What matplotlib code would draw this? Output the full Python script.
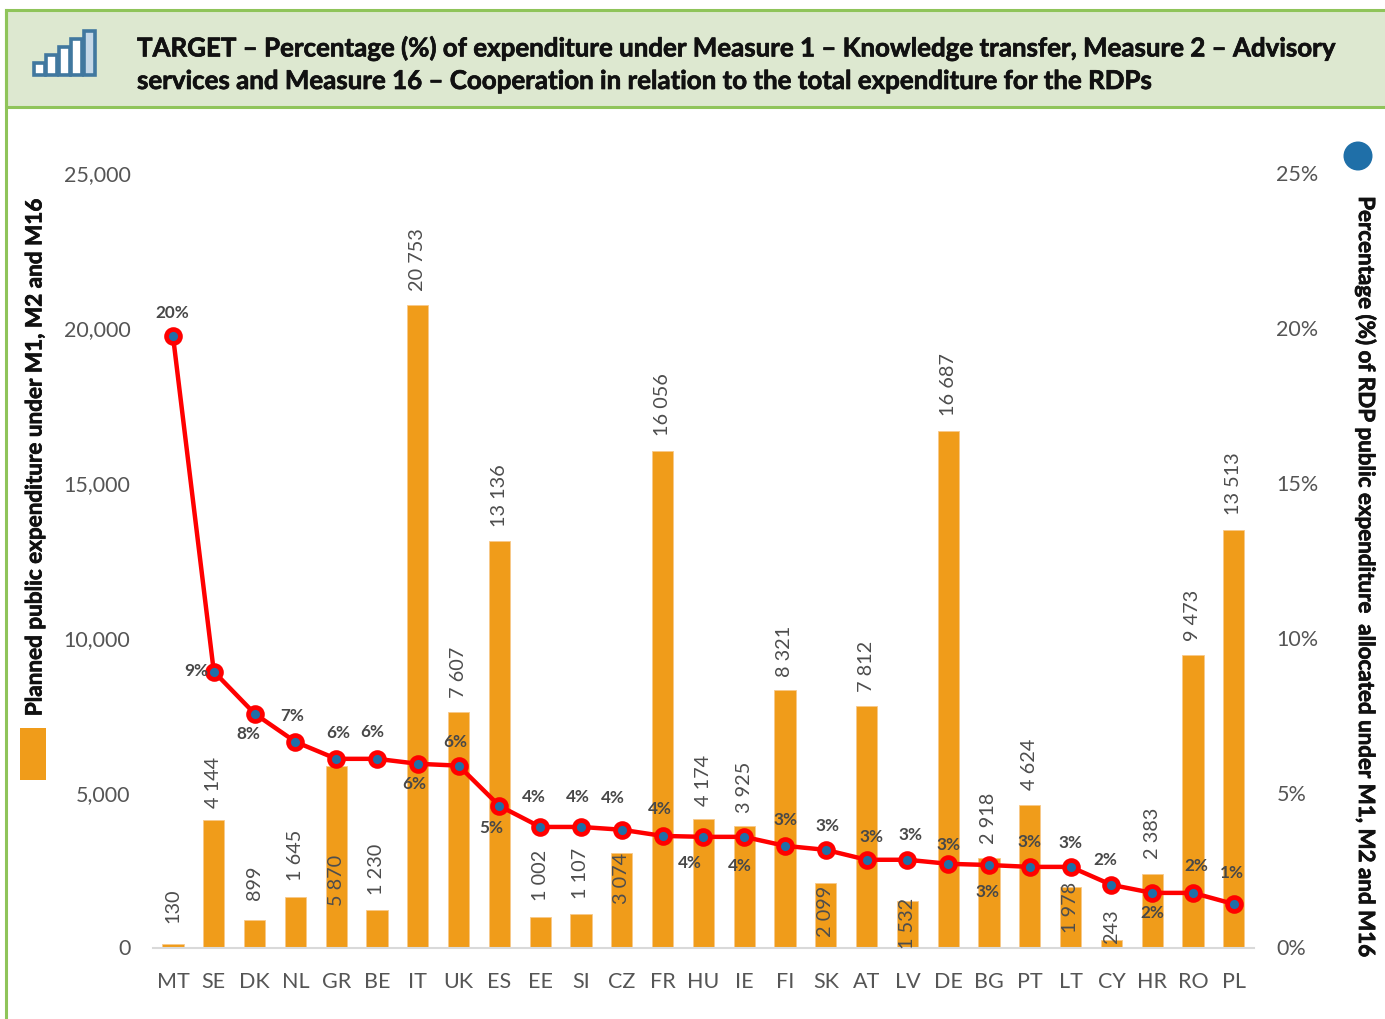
import matplotlib.pyplot as plt
import matplotlib.patheffects as pe
from matplotlib.patches import Rectangle, Circle
from matplotlib.transforms import ScaledTranslation

plt.rcParams['font.family'] = ['Lato', 'DejaVu Sans']

countries = ['MT', 'SE', 'DK', 'NL', 'GR', 'BE', 'IT', 'UK', 'ES', 'EE', 'SI', 'CZ', 'FR', 'HU',
             'IE', 'FI', 'SK', 'AT', 'LV', 'DE', 'BG', 'PT', 'LT', 'CY', 'HR', 'RO', 'PL']
expenditure = [130, 4144, 899, 1645, 5870, 1230, 20753, 7607, 13136, 1002, 1107, 3074, 16056, 4174,
               3925, 8321, 2099, 7812, 1532, 16687, 2918, 4624, 1978, 243, 2383, 9473, 13513]
percentage = [19.76, 8.93, 7.57, 6.66, 6.11, 6.11, 5.95, 5.89, 4.59, 3.91, 3.91, 3.82, 3.62, 3.59,
              3.59, 3.30, 3.17, 2.85, 2.85, 2.72, 2.68, 2.62, 2.62, 2.04, 1.78, 1.78, 1.42]
left_ticks = [0, 5000, 10000, 15000, 20000, 25000]
right_ticks = [0, 5, 10, 15, 20, 25]

# label offsets in pixels
bar_label_dy = [22, 13, 21, 17, -139, 16, 15, 15, 15, 17, 16, -50, 16, 14,
                14, 14, -53, 15, -47, 16, 15, 16, -45, -3, 16, 15, 16]
pct_label_dx = [-1, -18, -6, -3, 2, -5, -4, -3, -8, -6, -3, -9, -3, -14,
                -4, 0, 2, 5, 3, 0, -2, 0, 0, -6, 0, 3, -2]
pct_label_dy = [24, 2, -19, 27, 27, 28, -19, 25, -21, 31, 31, 33, 28, -25,
                -28, 27, 25, 24, 26, 20, -26, 26, 25, 26, -19, 28, 32]

W, H = 1385, 1020
fig = plt.figure(figsize=(W / 100, H / 100), dpi=100)

heavy = [pe.withStroke(linewidth=0.5, foreground='#111111')]
up = ScaledTranslation(0, 1.5 / 100, fig.dpi_scale_trans)

# page furniture in pixel coordinates
bg = fig.add_axes([0, 0, 1, 1])
bg.set_xlim(0, W)
bg.set_ylim(H, 0)
bg.axis('off')
green = '#8FC45A'
bg.plot([6, 6], [11, H], color=green, lw=2.2)
bg.add_patch(Rectangle((6, 11), W, 97, facecolor='#DDE8D0', edgecolor=green, lw=2.2))
bg.text(137, 49, 'TARGET – Percentage (%) of expenditure under Measure 1 – Knowledge transfer, Measure 2 – Advisory',
        fontsize=18.65, fontweight='bold', va='center', color='#111111', path_effects=heavy)
bg.text(137, 82, 'services and Measure 16 – Cooperation in relation to the total expenditure for the RDPs',
        fontsize=18.65, fontweight='bold', va='center', color='#111111', path_effects=heavy)

# header icon
for i, top in enumerate([64, 56, 48, 40, 32]):
    face = '#C5D8E8' if i == 4 else 'white'
    bg.add_patch(Rectangle((34 + i * 12.4, top), 11, 76 - top, facecolor=face, edgecolor='#41789F', lw=2.6))

# legend swatches
bg.add_patch(Rectangle((20, 729), 26, 52, facecolor='#F09C1A', edgecolor='none'))
bg.add_patch(Circle((1358, 157), 14.5, facecolor='#1F6FA8', edgecolor='none'))

bg.text(35, 459, 'Planned public expenditure under M1, M2 and M16', rotation=90, fontsize=16.2,
        fontweight='bold', ha='center', va='center', color='#111111', path_effects=heavy)
bg.text(1366, 578, 'Percentage (%) of RDP public expenditure  allocated under M1, M2 and M16', rotation=270,
        fontsize=16.1, fontweight='bold', ha='center', va='center', color='#111111', path_effects=heavy)

# main chart
ax = fig.add_axes([152.6 / W, 1 - 949 / H, 1101.6 / W, 774 / H])
ax.patch.set_alpha(0)
x = list(range(len(countries)))
ax.bar(x, expenditure, width=0.52, color='#F09C1A', edgecolor='#F8C98A', lw=0.6, zorder=2)
ax.set_xlim(-0.5, 26.5)
ax.set_ylim(0, 25000)
ax.set_xticks(x)
ax.set_xticklabels(countries)
ax.set_yticks(left_ticks)
ax.set_yticklabels(['{:,}'.format(v) for v in left_ticks])
ax.tick_params(length=0, labelsize=15.5, labelcolor='#555555')
ax.tick_params(axis='x', pad=16.5)
ax.tick_params(axis='y', pad=16)
for side in ['top', 'left', 'right']:
    ax.spines[side].set_visible(False)
ax.spines['bottom'].set_color('#D9D9D9')
ax.spines['bottom'].set_linewidth(1.5)

for i, v in enumerate(expenditure):
    ax.annotate('{:,}'.format(v).replace(',', ' '), (i, v), xytext=(0, bar_label_dy[i]),
                textcoords='offset pixels', rotation=90, ha='center', va='bottom',
                fontsize=14.3, color='#4D4D4D', zorder=3)

ax2 = ax.twinx()
ax2.patch.set_alpha(0)
ax2.plot(x, percentage, '-o', color='#FF0000', lw=3.2, ms=10, mfc='#1F6FA8', mec='#FF0000', mew=3.4)
ax2.set_ylim(0, 25)
ax2.set_yticks(right_ticks)
ax2.set_yticklabels(['{}%'.format(v) for v in right_ticks])
ax2.tick_params(length=0, labelsize=15.5, labelcolor='#555555', pad=16)
for side in ['top', 'left', 'right', 'bottom']:
    ax2.spines[side].set_visible(False)

for lab in ax.get_yticklabels() + ax2.get_yticklabels():
    lab.set_transform(lab.get_transform() + up)

for i, v in enumerate(percentage):
    ax2.annotate('{:.0f}%'.format(v), (i, v), xytext=(pct_label_dx[i], pct_label_dy[i]),
                 textcoords='offset pixels', ha='center', va='center',
                 fontsize=12.3, fontweight='bold', color='#484848')

fig.savefig('out.png', dpi=100)
